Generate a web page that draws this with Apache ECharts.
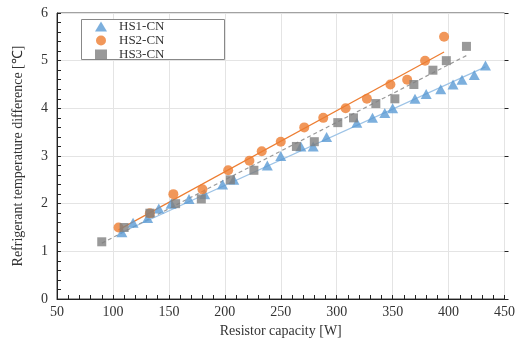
<!DOCTYPE html>
<html><head><meta charset="utf-8">
<script src="https://cdn.jsdelivr.net/npm/echarts@6/dist/echarts.min.js"></script>
<style>html,body{margin:0;padding:0;background:#fff}#c{width:518px;height:345px}</style>
</head><body><div id="c"></div>
<script>
const xTicks = [50,100,150,200,250,300,350,400,450];
const yTicks = [0,1,2,3,4,5,6];
const hs1X = [108,118,131,141,152,168,182,198,208,238,250,268,279,291,318,332,343,350,370,380,393,404,412,423,433];
const hs1Y = [1.4,1.6,1.7,1.9,2.0,2.1,2.2,2.4,2.5,2.8,3.0,3.2,3.2,3.4,3.7,3.8,3.9,4.0,4.2,4.3,4.4,4.5,4.6,4.7,4.9];
const hs2X = [105,133,154,180,203,222,233,250,271,288,308,327,348,363,379,396];
const hs2Y = [1.5,1.8,2.2,2.3,2.7,2.9,3.1,3.3,3.6,3.8,4.0,4.2,4.5,4.6,5.0,5.5];
const hs3X = [90,110,133,156,179,205,226,264,280,301,315,335,352,369,386,398,416];
const hs3Y = [1.2,1.5,1.8,2.0,2.1,2.5,2.7,3.2,3.3,3.7,3.8,4.1,4.2,4.5,4.8,5.0,5.3];
// trend lines (endpoints)
const hs1FitX = [106,433], hs1FitY = [1.38,4.87];
const hs2FitX = [105,396], hs2FitY = [1.45,5.18];
const hs3FitX = [90,417], hs3FitY = [1.17,5.12];

const zip = (a,b)=>a.map((v,i)=>[v,b[i]]);
const FONT = '"Liberation Serif", "Times New Roman", serif';
const chart = echarts.init(document.getElementById('c'));
const xBase = {type:'value', min:50, max:450, interval:50, gridIndex:0};
const yBase = {type:'value', min:0, max:6, interval:1, gridIndex:0};
chart.setOption({
  animation:false,
  grid:{left:57, right:10, top:13, bottom:46, show:true, borderColor:'#444', borderWidth:1},
  graphic:[{type:'rect', left:81, top:19, shape:{width:143, height:40}, style:{fill:'#fff', stroke:'#888', lineWidth:1}, z:5}],
  legend:{
    left:95, top:20, orient:'vertical', itemGap:1, itemWidth:12, itemHeight:10,
    padding:0, borderWidth:0, z:10,
    textStyle:{fontFamily:FONT, fontSize:13, color:'#333', lineHeight:13, padding:[0,0,0,7]},
    data:['HS1-CN','HS2-CN','HS3-CN']
  },
  xAxis:[
    Object.assign({}, xBase, {
      name:'Resistor capacity [W]', nameLocation:'middle', nameGap:25,
      nameTextStyle:{fontFamily:FONT, fontSize:14, color:'#333'},
      axisLine:{lineStyle:{color:'#222'}},
      axisTick:{show:true, inside:true, length:4, lineStyle:{color:'#222'}},
      minorTick:{show:true, splitNumber:5, length:4, lineStyle:{color:'#222'}},
      axisLabel:{fontFamily:FONT, fontSize:14, color:'#333', margin:6, showMaxLabel:true},
      splitLine:{show:true, lineStyle:{color:'#e4e4e4'}}
    }),
    Object.assign({}, xBase, {
      axisLine:{show:false}, axisLabel:{show:false}, splitLine:{show:false},
      axisTick:{show:true, inside:false, length:4, lineStyle:{color:'#222'}}
    })
  ],
  yAxis:[
    Object.assign({}, yBase, {
      name:'Refrigerant temperature difference [℃]', nameLocation:'middle', nameGap:32,
      nameTextStyle:{fontFamily:FONT, fontSize:14, color:'#333'},
      axisLine:{show:true, lineStyle:{color:'#222'}},
      axisTick:{show:true, inside:true, length:4, lineStyle:{color:'#222'}},
      minorTick:{show:true, splitNumber:5, length:4, lineStyle:{color:'#222'}},
      axisLabel:{fontFamily:FONT, fontSize:14, color:'#333', margin:9},
      splitLine:{show:true, lineStyle:{color:'#e4e4e4'}}
    }),
    Object.assign({}, yBase, {
      axisLine:{show:false}, axisLabel:{show:false}, splitLine:{show:false},
      axisTick:{show:true, inside:false, length:4, lineStyle:{color:'#222'}}
    })
  ],
  series:[
    {type:'line', data:zip(hs1FitX,hs1FitY), symbol:'none', lineStyle:{color:'#9dc3e6', width:1.2}, silent:true, z:1},
    {type:'line', data:zip(hs2FitX,hs2FitY), symbol:'none', lineStyle:{color:'#ed7d31', width:1.2}, silent:true, z:1},
    {type:'line', data:zip(hs3FitX,hs3FitY), symbol:'none', lineStyle:{color:'#9a9a9a', width:1.2, type:[4,3]}, silent:true, z:1},
    {name:'HS1-CN', type:'scatter', symbol:'triangle', symbolSize:[11,10], itemStyle:{color:'#5b9bd5'}, data:zip(hs1X,hs1Y), z:3},
    {name:'HS2-CN', type:'scatter', symbol:'circle', symbolSize:10, itemStyle:{color:'#ed7d31'}, data:zip(hs2X,hs2Y), z:3},
    {name:'HS3-CN', type:'scatter', symbol:'rect', symbolSize:9, itemStyle:{color:'#7f7f7f'}, data:zip(hs3X,hs3Y), z:3}
  ]
});
</script></body></html>
